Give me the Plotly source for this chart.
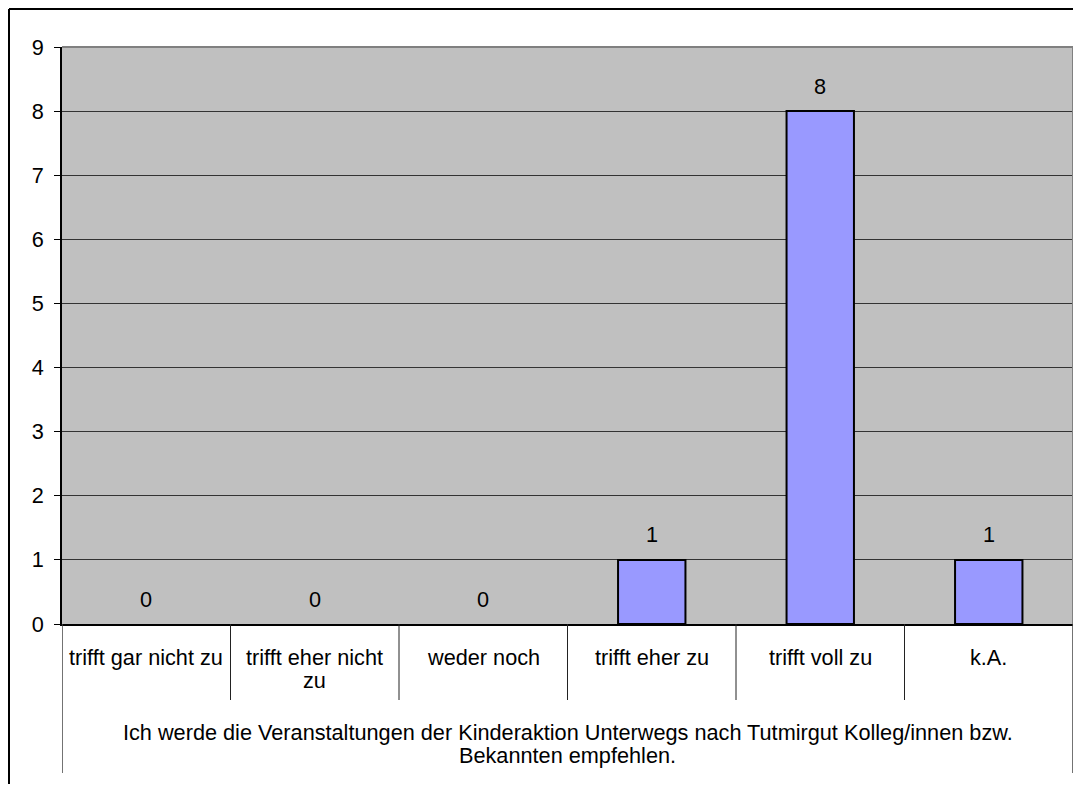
import plotly.graph_objects as go

categories = ["trifft gar nicht zu", "trifft eher nicht zu", "weder noch",
              "trifft eher zu", "trifft voll zu", "k.A."]
# label lines as shown on the chart (wrapped)
category_lines = [["trifft gar nicht zu"], ["trifft eher nicht", "zu"], ["weder noch"],
                  ["trifft eher zu"], ["trifft voll zu"], ["k.A."]]
values = [0, 0, 0, 1, 8, 1]
group_lines = ["Ich werde die Veranstaltungen der Kinderaktion Unterwegs nach Tutmirgut Kolleg/innen bzw.",
               "Bekannten empfehlen."]
y_ticks = list(range(0, 10))

FONT = "Liberation Sans, Arial, sans-serif"
FS = 21.7

OFF = 8  # page body margin
W, H = 1081 - 2 * OFF, 792 - 2 * OFF
# target page-pixel positions of the plot area
PL, PR, PT, PB = 62, 1073, 47, 624
L, T = PL - OFF, PT - OFF
R = W - (PR - OFF)
B = H - (PB - OFF)
plot_h = H - T - B
plot_w = W - L - R

def py(pix):
    # page pixel y -> paper y
    return (PB - pix) / plot_h

def px(pix):
    return (pix - PL) / plot_w

fig = go.Figure()
fig.add_trace(go.Bar(
    x=list(range(len(categories))), y=values, width=0.4,
    marker=dict(color="#9999FF",
                line=dict(color="black", width=[2 if v > 0 else 0 for v in values])),
    hoverinfo="skip", showlegend=False,
))

annotations = []
# data labels
for i, v in enumerate(values):
    annotations.append(dict(x=i, y=v, xref="x", yref="y", text=str(v), showarrow=False,
                            yanchor="middle", yshift=25, font=dict(family=FONT, size=FS, color="black")))
# category labels
for i, lines in enumerate(category_lines):
    for j, t in enumerate(lines):
        annotations.append(dict(x=i, y=0, xref="x", yref="paper", text=t, showarrow=False,
                                yanchor="middle", yshift=-33 - 23 * j,
                                font=dict(family=FONT, size=FS, color="black")))
# group label
for j, t in enumerate(group_lines):
    annotations.append(dict(x=(len(categories) - 1) / 2, y=0, xref="x", yref="paper", text=t,
                            showarrow=False, yanchor="middle", yshift=-108 - 23 * j,
                            font=dict(family=FONT, size=FS, color="black")))

shapes = []
# separators between categories
for k in range(1, len(categories)):
    shapes.append(dict(type="line", xref="x", yref="paper", x0=k - 0.5, x1=k - 0.5,
                       y0=0, y1=py(700), line=dict(color="#222222", width=1)))
# outer verticals of the group
for xv in (-0.5, len(categories) - 0.5):
    shapes.append(dict(type="line", xref="x", yref="paper", x0=xv, x1=xv,
                       y0=0, y1=py(773), line=dict(color="#444444", width=1.5)))
# plot area top and right border
shapes.append(dict(type="line", xref="paper", yref="paper", x0=0, x1=1, y0=1, y1=1,
                   line=dict(color="#808080", width=2)))
shapes.append(dict(type="line", xref="paper", yref="paper", x0=1, x1=1, y0=0, y1=1,
                   line=dict(color="#808080", width=2)))
# outer chart frame (top and left edges; the rest lies outside the picture)
shapes.append(dict(type="line", xref="paper", yref="paper", x0=px(9), x1=px(1200),
                   y0=py(9), y1=py(9), line=dict(color="black", width=2)))
shapes.append(dict(type="line", xref="paper", yref="paper", x0=px(9), x1=px(9),
                   y0=py(9), y1=py(900), line=dict(color="black", width=2)))

fig.update_layout(
    width=W, height=H,
    margin=dict(l=L, r=R, t=T, b=B),
    paper_bgcolor="white", plot_bgcolor="#C0C0C0",
    font=dict(family=FONT, size=FS, color="black"),
    xaxis=dict(range=[-0.5, len(categories) - 0.5], showticklabels=False, ticks="",
               showgrid=False, zeroline=False, showline=True, linecolor="black", linewidth=1.5,
               fixedrange=True),
    yaxis=dict(range=[0, 9], tickvals=y_ticks, ticktext=[str(t) for t in y_ticks],
               showgrid=True, gridcolor="#333333", gridwidth=1, zeroline=False,
               showline=True, linecolor="black", linewidth=1.5,
               ticks="outside", ticklen=6, tickcolor="black", tickwidth=1,
               ticklabelstandoff=6, tickfont=dict(family=FONT, size=FS, color="black"),
               fixedrange=True),
    annotations=annotations,
    shapes=shapes,
)

fig.write_html("out.html")
